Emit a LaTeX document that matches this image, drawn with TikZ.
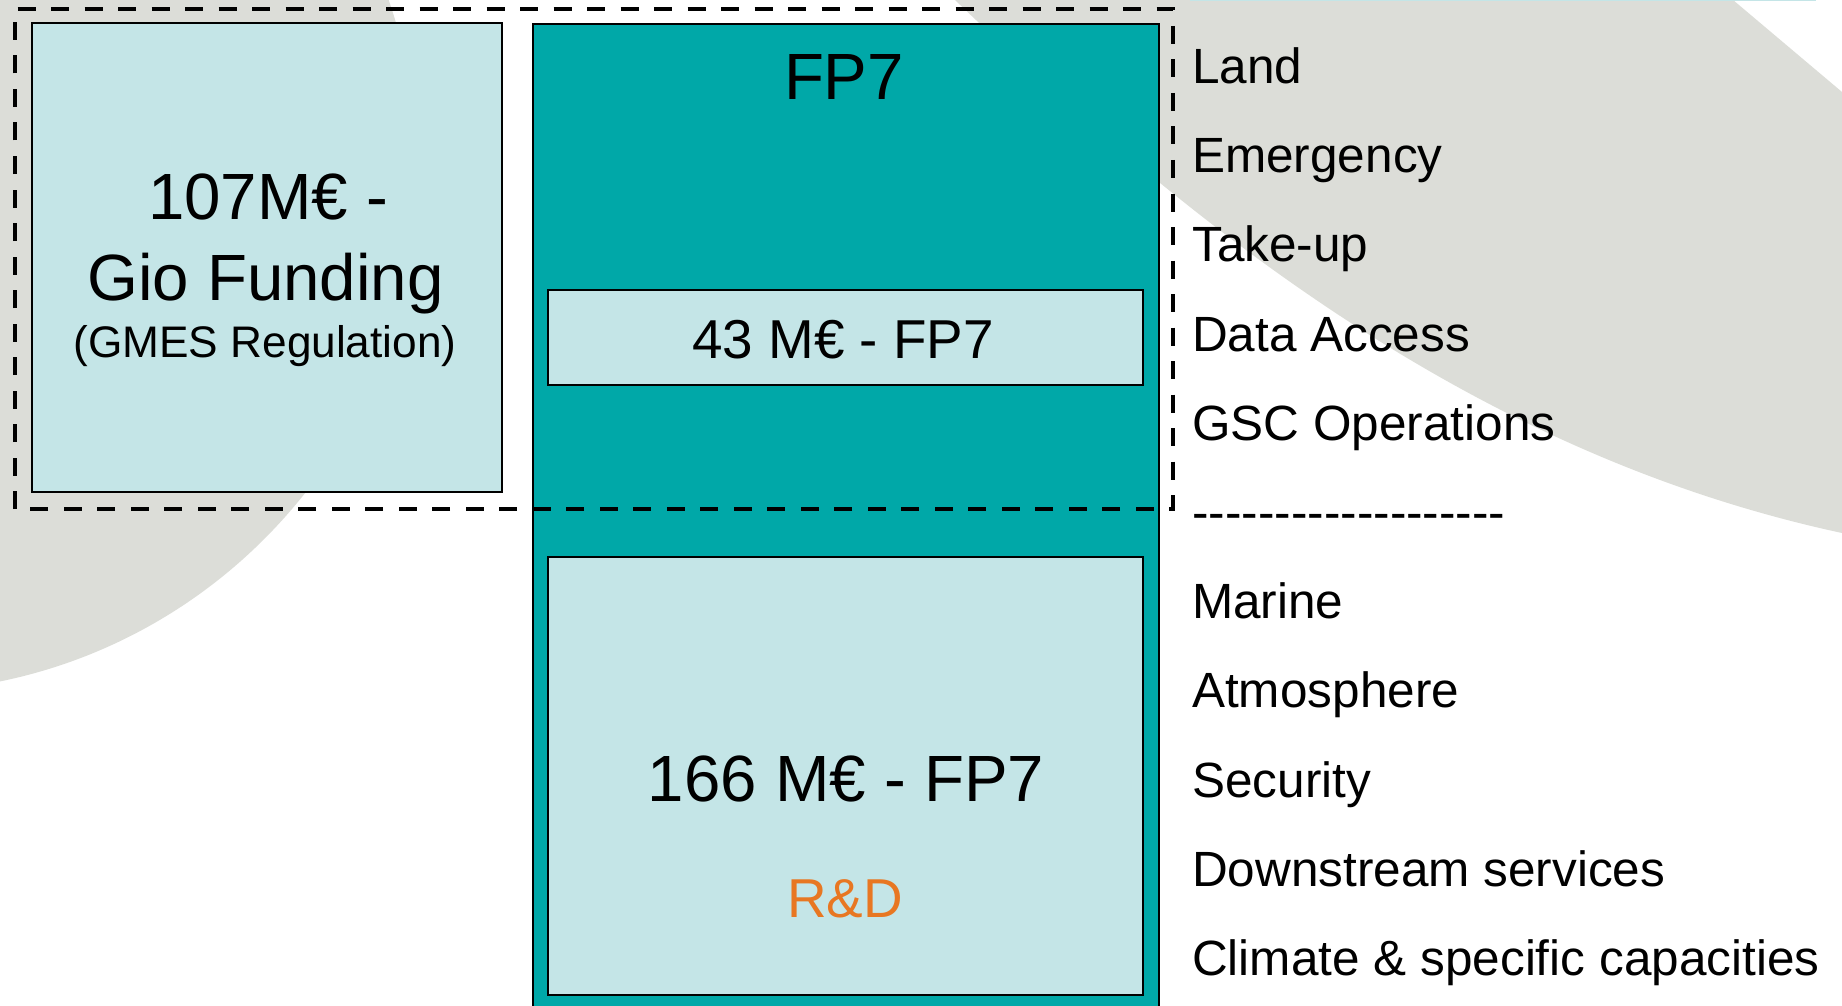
\documentclass[tikz,border=0pt]{standalone}
\usepackage{fontspec}
\setmainfont{Liberation Sans}
\definecolor{gmesteal}{HTML}{00A8A8}
\definecolor{gmeslight}{HTML}{C4E5E7}
\definecolor{gmesgray}{HTML}{DCDDD8}
\definecolor{gmesorange}{HTML}{E87722}
\newcommand{\fsz}[1]{\fontsize{#1}{#1}\selectfont}
\newcommand{\hyphenrule}{\foreach \i in {1,...,19}{-\kern0pt}}

\begin{document}
\begin{tikzpicture}[x=1pt,y=-1pt,
    box/.style={draw=black,line width=2pt,fill=gmeslight,inner sep=0pt},
    item/.style={anchor=base west,inner sep=0pt,font=\fsz{49.5}},
    big/.style={anchor=base,inner sep=0pt,font=\fsz{65.4}},
    mid/.style={anchor=base,inner sep=0pt,font=\fsz{54.8}},
    fence/.style={line width=4.6pt,dash pattern=on 18pt off 15.5pt}]
      \useasboundingbox (0,0) rectangle (1842,1006);
      \clip (0,0) rectangle (1842,1006);
      \fill[white] (0,0) rectangle (1842,1006);
      % background swooshes
      \fill[gmesgray] (-105,170) circle (522pt);
      \fill[gmesgray] (955,0) -- (1733,0) -- (1842,92) -- (1842,533)
        .. controls (1480,455) and (1200,235) .. (955,0) -- cycle;
      \fill[gmeslight] (1190,0) rectangle (1816,1.5);
      % boxes
      \node[box,minimum width=470pt,minimum height=468.5pt] (gio) at (266.5,257.75) {};
      \node[box,fill=gmesteal,anchor=north west,minimum width=626pt,minimum height=1000pt] (fp) at (532,23.5) {};
      \node[box,anchor=north west,minimum width=595pt,minimum height=94.5pt] (ops) at (547,289) {};
      \node[box,anchor=north west,minimum width=595pt,minimum height=438pt] (rnd) at (547,556) {};
      % texts in the boxes
      \draw
        (268,219) node[big] (gioa){107M€ -}
        (265.5,300.5) node[big] (giob){Gio Funding}
        (265,357) node[anchor=base,inner sep=0pt,font=\fsz{44.2}] (gioc){(GMES Regulation)}
        (844,100) node[big] (fptitle){FP7}
        (843,358.5) node[mid] (opstext){43 M€ - FP7}
        (846,801.5) node[big] (rndtext){166 M€ - FP7}
        (845,917.5) node[mid,text=gmesorange] (rndlabel){R\&D};
      % list on the right
      \draw
        (1192,83.5) node[item] (land){Land}
        (1192,172.7) node[item] (emergency){Emergency}
        (1192,261.9) node[item] (takeup){Take-up}
        (1192,351.1) node[item] (access){Data Access}
        (1192,440.3) node[item] (gsc){GSC Operations}
        (1192,529.5) node[item] (rule){\hyphenrule}
        (1192,618.7) node[item] (marine){Marine}
        (1192,707.9) node[item] (atmos){Atmosphere}
        (1192,797.1) node[item] (security){Security}
        (1192,886.3) node[item] (downstream){Downstream services}
        (1192,975.5) node[item] (climate){Climate \& specific capacities};
      % dashed frame round the operational part
      \draw[fence] (15,509) rectangle (1173,9);
    \end{tikzpicture}
\end{document}
